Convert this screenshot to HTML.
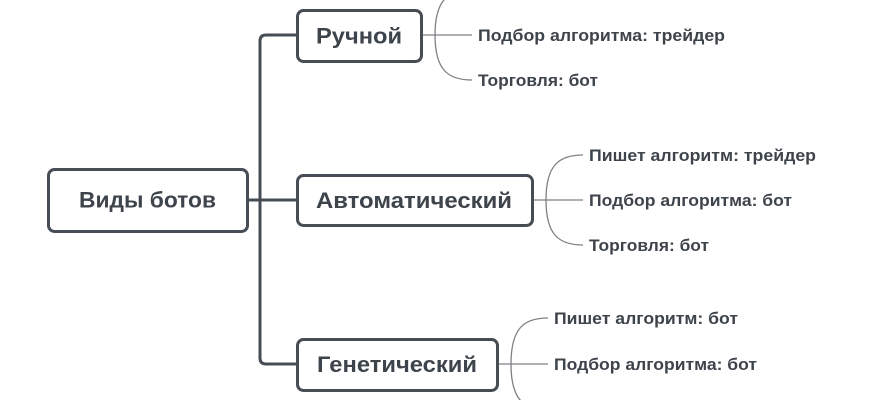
<!DOCTYPE html>
<html>
<head>
<meta charset="utf-8">
<style>
  html, body { margin: 0; padding: 0; background: #ffffff; }
  body { width: 870px; height: 400px; overflow: hidden; }
  svg { display: block; }
  .big { font-family: "Liberation Sans", "Noto Sans CJK SC", sans-serif; font-weight: bold; font-size: 22px; fill: #3e444b; }
  .small { font-family: "Liberation Sans", "Noto Sans CJK SC", sans-serif; font-weight: bold; font-size: 16.5px; fill: #3e444b; }
  .box { fill: #ffffff; stroke: #474d55; stroke-width: 3; }
  .thick { fill: none; stroke: #474d55; stroke-width: 3; }
  .thin { fill: none; stroke: #7d8085; stroke-width: 1.3; }
</style>
</head>
<body>
<svg width="870" height="400" viewBox="0 0 870 400" xmlns="http://www.w3.org/2000/svg">
  <!-- main connectors -->
  <path class="thick" d="M249,200 H296"/>
  <path class="thick" d="M296,35 H266 Q260,35 260,41 V358 Q260,364 266,364 H296"/>

  <!-- Ручной branch connectors -->
  <path class="thin" d="M423,35 H472"/>
  <path class="thin" d="M435,35 C435,0 448,-10 472,-10"/>
  <path class="thin" d="M435,35 C435,70 448,80 472,80"/>

  <!-- Автоматический connectors -->
  <path class="thin" d="M534,200 H583"/>
  <path class="thin" d="M546,200 C546,165 559,155 583,155"/>
  <path class="thin" d="M546,200 C546,235 559,245 583,245"/>

  <!-- Генетический connectors -->
  <path class="thin" d="M499,364 H548"/>
  <path class="thin" d="M511,364 C511,328 524,318 548,318"/>
  <path class="thin" d="M511,364 C511,400 524,410 548,410"/>

  <!-- boxes -->
  <rect class="box" x="48.5" y="169.5" width="199" height="62" rx="6" ry="6"/>
  <rect class="box" x="297.5" y="10.5" width="124" height="51" rx="6" ry="6"/>
  <rect class="box" x="297.5" y="175.5" width="235" height="50" rx="6" ry="6"/>
  <rect class="box" x="297.5" y="339.5" width="200" height="51" rx="6" ry="6"/>

  <!-- box labels -->
  <text class="big" x="79" y="207.5" textLength="137" lengthAdjust="spacingAndGlyphs">Виды ботов</text>
  <text class="big" x="316" y="43.5" textLength="86" lengthAdjust="spacingAndGlyphs">Ручной</text>
  <text class="big" x="316" y="208" textLength="196" lengthAdjust="spacingAndGlyphs">Автоматический</text>
  <text class="big" x="317" y="372" textLength="160" lengthAdjust="spacingAndGlyphs">Генетический</text>

  <!-- Ручной children -->
  <text class="small" x="478" y="-4" textLength="227" lengthAdjust="spacingAndGlyphs">Пишет алгоритм: трейдер</text>
  <text class="small" x="478" y="41" textLength="247" lengthAdjust="spacingAndGlyphs">Подбор алгоритма: трейдер</text>
  <text class="small" x="478" y="86" textLength="120" lengthAdjust="spacingAndGlyphs">Торговля: бот</text>

  <!-- Автоматический children -->
  <text class="small" x="589" y="161" textLength="227" lengthAdjust="spacingAndGlyphs">Пишет алгоритм: трейдер</text>
  <text class="small" x="589" y="206" textLength="203" lengthAdjust="spacingAndGlyphs">Подбор алгоритма: бот</text>
  <text class="small" x="589" y="251" textLength="120" lengthAdjust="spacingAndGlyphs">Торговля: бот</text>

  <!-- Генетический children -->
  <text class="small" x="554" y="324" textLength="184" lengthAdjust="spacingAndGlyphs">Пишет алгоритм: бот</text>
  <text class="small" x="554" y="370" textLength="203" lengthAdjust="spacingAndGlyphs">Подбор алгоритма: бот</text>
  <text class="small" x="554" y="416" textLength="120" lengthAdjust="spacingAndGlyphs">Торговля: бот</text>
</svg>
</body>
</html>
